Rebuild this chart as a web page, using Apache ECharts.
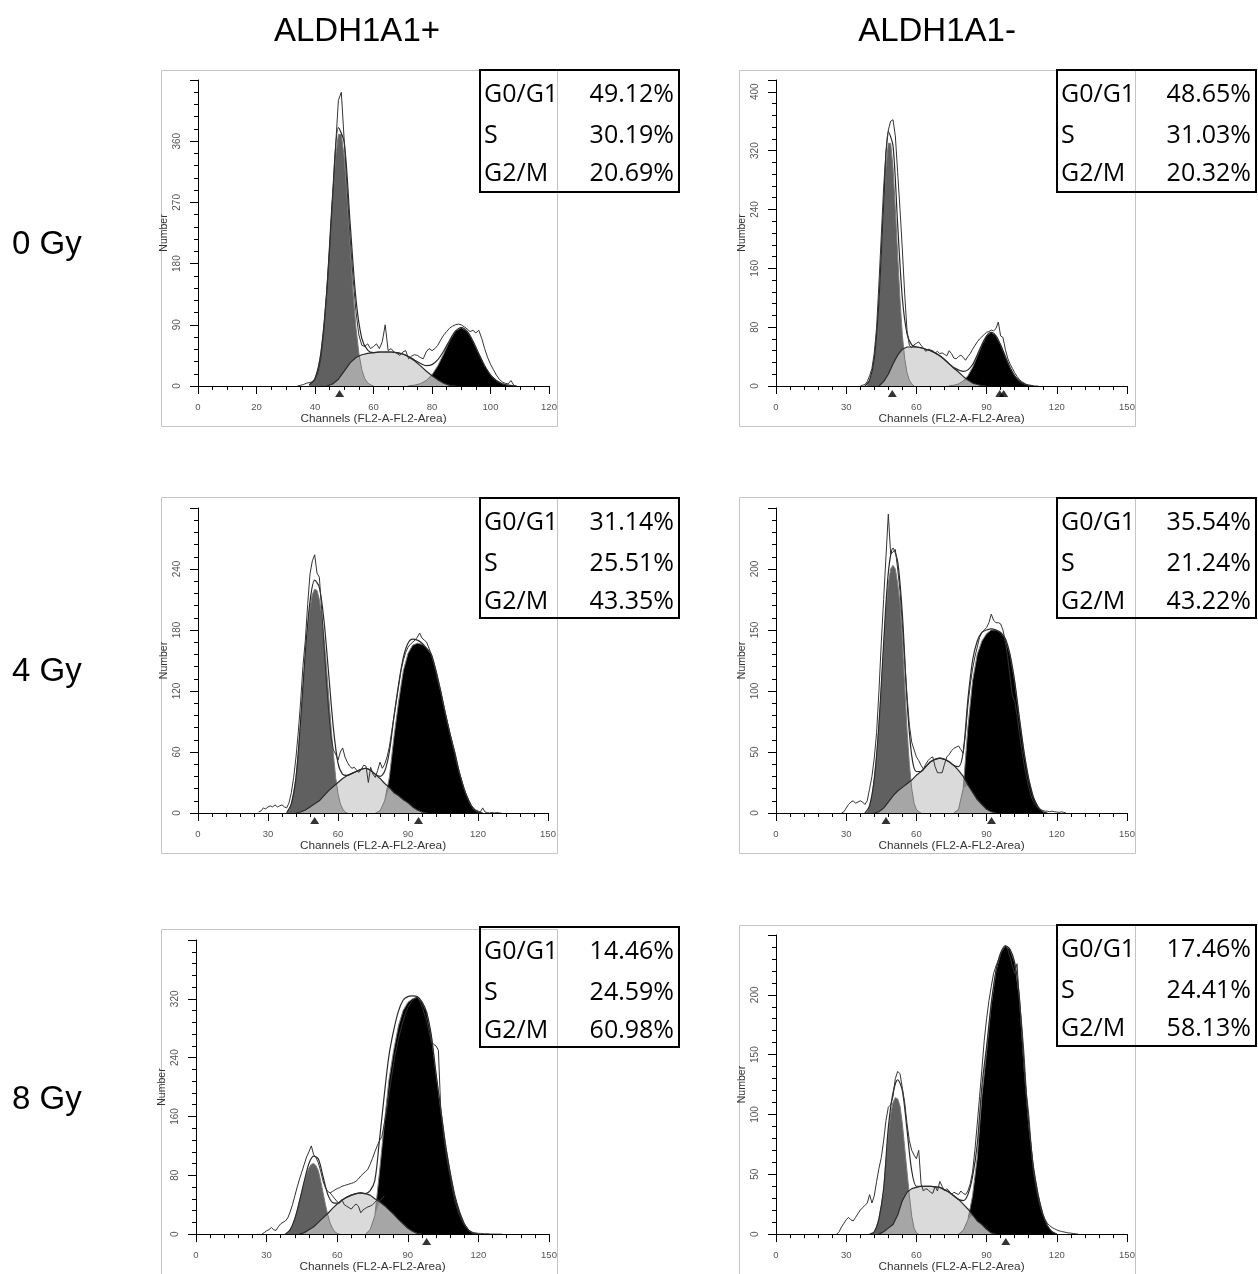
<!DOCTYPE html>
<html>
<head>
<meta charset="utf-8">
<script src="https://cdn.jsdelivr.net/npm/echarts/dist/echarts.min.js"></script>
<style>
  html, body { margin: 0; padding: 0; background: #fff; }
  #chart { width: 1258px; height: 1274px; }
</style>
</head>
<body>
<div id="chart"></div>
<script>
// Headings
const columnTitles = ['ALDH1A1+', 'ALDH1A1-'];
const rowTitles = ['0 Gy', '4 Gy', '8 Gy'];
const phaseNames = ['G0/G1', 'S', 'G2/M'];

// Cell-cycle fractions (G0/G1, S, G2/M)
const pos0_pct = ['49.12%', '30.19%', '20.69%'];
const neg0_pct = ['48.65%', '31.03%', '20.32%'];
const pos4_pct = ['31.14%', '25.51%', '43.35%'];
const neg4_pct = ['35.54%', '21.24%', '43.22%'];
const pos8_pct = ['14.46%', '24.59%', '60.98%'];
const neg8_pct = ['17.46%', '24.41%', '58.13%'];

// Axis scales: [channel max, channel tick step, count max, count tick step]
const pos0_axes = [120, 20, 450, 90];
const neg0_axes = [150, 30, 416, 80];
const pos4_axes = [150, 30, 300, 60];
const neg4_axes = [150, 30, 250, 50];
const pos8_axes = [150, 30, 400, 80];
const neg8_axes = [150, 30, 250, 50];

// ---- ALDH1A1+, 0 Gy ----
const pos0_g1From = 38;   // G0/G1 model, one value per channel
const pos0_g1 = [1.7,4.6,11,24,48,86,139,206,276,336,370,370,336,276,206,139,86,48,24,11,4.6,1.7,0];
const pos0_sFrom = 44;    // S-phase model, every 2 channels
const pos0_s = [0,3,10,22,34,42,46,48,49,50,50,50,49,47,43,37,30,22,15,9,4,1,0];
const pos0_g2From = 72;   // G2/M model, every 2 channels
const pos0_g2 = [0.4,1.2,3.4,8,16.4,29.8,47.5,66,80.5,86,80.5,66,47.5,29.8,16.4,8,3.4,1.2,0.4];
const pos0_rawFrom = 34;  // measured histogram, one value per channel
const pos0_raw = [0,1,2,4,5,6,
  9,20,40,80,135,200,275,350,420,432,
  360,290,220,160,110,75,60,58,62,55,
  58,62,55,65,90,52,55,50,48,45,
  50,52,40,44,46,45,42,40,50,55,
  52,55,60,68,75,80,85,88,90,91,
  90,87,84,80,82,78,82,70,55,42,
  32,24,16,10,6,4,3,8,1,0];
const pos0_marks = [48.4];

// ---- ALDH1A1-, 0 Gy ----
const neg0_g1From = 39;
const neg0_g1 = [3,7.8,18,37,69,117,177,241,297,330,330,297,241,177,117,69,37,18,7.8,3,0];
const neg0_sFrom = 44;
const neg0_s = [0,6,16,30,42,50,53,53,53,52,50,48,45,41,36,30,24,19,13,8,4,2,0.5,0];
const neg0_g2From = 74;
const neg0_g2 = [0.34,1.06,2.85,6.75,13.9,25.3,40.3,56,68.3,73,68.3,56,40.3,25.3,13.9,6.75,2.85,1.06,0.34];
const neg0_rawFrom = 36;
const neg0_raw = [0,1,2,6,
  14,24,45,80,140,205,270,318,348,360,
  362,340,290,240,185,125,75,55,52,56,
  58,60,55,52,47,50,49,48,45,47,
  44,45,43,41,48,44,38,37,40,42,
  39,35,40,44,50,55,60,64,67,70,
  73,74,76,75,78,87,68,66,50,38,
  30,24,18,13,9,6,4,2,1,1,
  0,0,0];
const neg0_marks = [49.7, 95.6, 97.3];

// ---- ALDH1A1+, 4 Gy ----
const pos4_g1From = 38;
const pos4_g1 = [0.5,3,9,20,35,60,90,125,155,182,202,215,220,219,210,195,172,145,115,85,58,35,19,9,4,1,0];
const pos4_sFrom = 42;
const pos4_s = [0,1,3,6,9,12,17,22,26,30,34,37,39,41,43,44,42,38,34,29,25,20,17,13,10,6,3,1,0];
const pos4_g2From = 76;
const pos4_g2 = [0,2,12,35,75,110,140,157,165,167,166,162,156,140,120,98,78,60,40,24,12,4,1,0];
const pos4_rawFrom = 26;
const pos4_raw = [1,2,5,4,6,7,6,8,6,7,8,6,5,10,
  20,35,55,80,110,145,170,205,235,248,
  254,236,232,200,165,130,100,75,62,58,
  52,60,64,55,50,46,44,45,42,40,
  43,47,46,30,45,38,35,42,50,44,
  48,55,65,80,95,110,125,140,150,158,
  163,166,168,170,173,177,172,170,168,162,
  156,148,138,128,120,108,98,88,78,68,
  58,48,40,32,24,18,13,8,5,3,
  2,1,5,1,0.5,0,0.5,0,0.5,0,0];
const pos4_marks = [50, 94.5];

// ---- ALDH1A1-, 4 Gy ----
const neg4_g1From = 38;
const neg4_g1 = [0,1,6,14,28,46,72,102,135,168,188,200,203,200,188,172,142,105,68,40,20,8,3,1,0];
const neg4_sFrom = 42;
const neg4_s = [0,1,4,9,14,18,21,24,27,31,34,38,42,44,45,44,42,39,35,30,23,17,11,7,3,1,0];
const neg4_g2From = 76;
const neg4_g2 = [0,3,20,70,108,130,141,147,150,150,148,143,130,108,78,50,28,13,5,1,0];
const neg4_rawFrom = 28;
const neg4_raw = [0,1,4,7,9,10,8,9,10,9,7,10,
  20,30,45,66,100,140,175,210,245,212,
  214,216,200,182,155,125,96,72,58,52,
  46,43,39,36,40,43,45,46,38,33,
  33,33,40,46,48,51,53,54,55,52,
  49,65,88,105,118,128,136,144,148,150,
  152,156,163,158,156,156,155,150,140,128,
  112,96,92,80,65,52,40,30,21,14,
  9,6,4,3,2,1.5,1.5,1,1.5,1,
  0.8,0.5,1,0.5,0];
const neg4_marks = [47, 92.1];

// ---- ALDH1A1+, 8 Gy ----
const pos8_g1From = 38;
const pos8_g1 = [0,2,6,12,21,32,45,58,70,82,90,95,96,93,86,72,56,40,26,15,8,3,1,0];
const pos8_sFrom = 44;
const pos8_s = [0,2,6,10,16,22,28,35,41,46,50,53,55,56,55,53,48,44,39,33,27,20,14,8,4,1,0];
const pos8_g2From = 72;
const pos8_g2 = [0,6,25,85,150,210,250,283,304,315,320,322,316,302,270,218,170,122,84,52,30,14,5,1,0];
const pos8_rawFrom = 28;
const pos8_raw = [0,2,4.5,6,9,6,5,10,14,16,18,22,
  30,40,52,64,75,85,95,105,112,120,
  108,104,97,85,72,63,58,56,58,60,
  62,63,65,66,67,68,69,70,72,75,
  79,82,85,88,95,103,112,120,127,133,
  150,168,190,212,232,250,265,278,290,300,
  308,313,318,321,322,318,310,300,290,275,
  262,258,256,250,170,140,115,95,78,60,
  45,34,25,18,12,8,5,3,2,1.5,
  1,1,0.5,0.5,0.5,0,0,0,0,0,0];
const pos8_traceFrom = 57;  // second measured trace under the S-phase hump
const pos8_trace = [56,52,48,44,42,47,40,38,36,34,38,41,38,29,33,35,37,38,40,43,47,45,48,52];
const pos8_marks = [98];

// ---- ALDH1A1-, 8 Gy ----
const neg8_g1From = 41;
const neg8_g1 = [0,2,6,13,24,36,62,84,100,110,114,113,107,92,72,52,32,15,5,1,0];
const neg8_sFrom = 44;
const neg8_s = [0,2,5,8,16,28,35,38,39,40,40,40,39.5,39,37,35,32,29,25,21,16,11,8,4,1,0];
const neg8_g2From = 78;
const neg8_g2 = [0,3,12,32,64,116,153,192,220,235,241,238,227,198,140,92,56,33,17,7,2,0];
const neg8_rawFrom = 26;
const neg8_raw = [0,2,6,9,12,14,12,11,14,17,20,22,24,26,
  33,26,32,44,55,64,78,95,106,108,
  115,130,136,134,122,110,92,78,70,66,
  63,70,42,36,38,37,35,34,40,36,
  44,40,36,38,36,33,35,34,33,36,
  34,33,36,42,52,70,92,115,138,162,
  180,195,207,218,224,229,234,238,241,238,
  232,224,218,226,195,175,150,118,100,75,
  52,40,30,22,16,12,9,7,5.5,4.5,
  3.5,2.7,2.2,1.8,1.4,1,0.8,0.5,0.3,0];
const neg8_marks = [98.2];

// Panel assembly (row-major: 0 Gy, 4 Gy, 8 Gy; left column ALDH1A1+)
const panels = [
  { axes: pos0_axes, g1: [pos0_g1From, pos0_g1], s: [pos0_sFrom, pos0_s], g2: [pos0_g2From, pos0_g2], raw: [pos0_rawFrom, pos0_raw], marks: pos0_marks, pct: pos0_pct,
    grid: { left: 198, top: 80, width: 351, height: 306 }, frame: [161, 70, 396, 356], box: [480, 70, 199, 122] },
  { axes: neg0_axes, g1: [neg0_g1From, neg0_g1], s: [neg0_sFrom, neg0_s], g2: [neg0_g2From, neg0_g2], raw: [neg0_rawFrom, neg0_raw], marks: neg0_marks, pct: neg0_pct,
    grid: { left: 776, top: 80, width: 351, height: 306 }, frame: [739, 70, 396, 356], box: [1057, 70, 199, 122] },
  { axes: pos4_axes, g1: [pos4_g1From, pos4_g1], s: [pos4_sFrom, pos4_s], g2: [pos4_g2From, pos4_g2], raw: [pos4_rawFrom, pos4_raw], marks: pos4_marks, pct: pos4_pct,
    grid: { left: 198, top: 508, width: 350, height: 305 }, frame: [161, 497, 396, 356], box: [480, 498, 199, 120] },
  { axes: neg4_axes, g1: [neg4_g1From, neg4_g1], s: [neg4_sFrom, neg4_s], g2: [neg4_g2From, neg4_g2], raw: [neg4_rawFrom, neg4_raw], marks: neg4_marks, pct: neg4_pct,
    grid: { left: 776, top: 508, width: 351, height: 305 }, frame: [739, 497, 396, 356], box: [1057, 498, 199, 120] },
  { axes: pos8_axes, g1: [pos8_g1From, pos8_g1], s: [pos8_sFrom, pos8_s], g2: [pos8_g2From, pos8_g2], raw: [pos8_rawFrom, pos8_raw], marks: pos8_marks, pct: pos8_pct,
    trace: [pos8_traceFrom, pos8_trace],
    grid: { left: 196, top: 940, width: 353, height: 298 }, frame: [161, 929, 396, 360], box: [480, 927, 199, 120] },
  { axes: neg8_axes, g1: [neg8_g1From, neg8_g1], s: [neg8_sFrom, neg8_s], g2: [neg8_g2From, neg8_g2], raw: [neg8_rawFrom, neg8_raw], marks: neg8_marks, pct: neg8_pct,
    grid: { left: 776, top: 935, width: 351, height: 305 }, frame: [739, 925, 396, 360], box: [1057, 925, 199, 121] }
];

// helpers
const pairs = (from, step, vals) => vals.map((v, k) => [from + k * step, v]);
const valueAt = (from, step, vals, x) => {
  const k = (x - from) / step;
  const r = Math.round(k);
  return (Math.abs(k - r) < 1e-9 && r >= 0 && r < vals.length) ? vals[r] : 0;
};

const FONT = 'Liberation Sans';
const grids = [], xAxes = [], yAxes = [], series = [], graphics = [];

panels.forEach((p, i) => {
  const [xMax, xStep, yMax, yStep] = p.axes;
  grids.push(Object.assign({ containLabel: false }, p.grid));

  xAxes.push({
    type: 'value', gridIndex: i, min: 0, max: xMax, interval: xStep, z: 20,
    axisLine: { show: true, onZero: false, lineStyle: { color: '#000', width: 1 } },
    axisTick: { show: true, length: 8, lineStyle: { color: '#000', width: 1 } },
    minorTick: { show: true, splitNumber: xStep === 20 ? 4 : 5, length: 4, lineStyle: { color: '#000', width: 1 } },
    splitLine: { show: false },
    axisLabel: { margin: 16, fontSize: 9.5, color: '#555', fontFamily: FONT },
    name: 'Channels (FL2-A-FL2-Area)', nameLocation: 'middle', nameGap: 23,
    nameTextStyle: { fontSize: 11.8, color: '#333', fontFamily: FONT }
  });
  yAxes.push({
    type: 'value', gridIndex: i, min: 0, max: yMax, interval: yStep, z: 20,
    axisLine: { show: true, onZero: false, lineStyle: { color: '#000', width: 1 } },
    axisTick: { show: true, length: 8, lineStyle: { color: '#000', width: 1 } },
    minorTick: { show: true, splitNumber: 5, length: 4, lineStyle: { color: '#000', width: 1 } },
    splitLine: { show: false },
    axisLabel: { rotate: 90, margin: 16, fontSize: 10, color: '#555', fontFamily: FONT, showMaxLabel: false },
    name: 'Number', nameLocation: 'middle', nameRotate: 90, nameGap: 28,
    nameTextStyle: { fontSize: 10.5, color: '#333', fontFamily: FONT }
  });

  const [g1From, g1] = p.g1, [sFrom, s] = p.s, [g2From, g2] = p.g2, [rawFrom, raw] = p.raw;
  const g1Pts = pairs(g1From, 1, g1);
  const sPts = pairs(sFrom, 2, s);
  const g2Pts = pairs(g2From, 2, g2);

  // region shared by S-phase and G2/M model
  const sg2 = sPts.map(([x, v]) => [x, Math.min(v, valueAt(g2From, 2, g2, x))]);

  // model sum on even channels
  const fit = [];
  const lo = Math.floor(Math.min(g1From, sFrom) / 2) * 2;
  const hi = Math.max(g2From + 2 * (g2.length - 1), sFrom + 2 * (s.length - 1));
  for (let x = lo; x <= hi; x += 2) {
    fit.push([x, valueAt(g1From, 1, g1, x) + valueAt(sFrom, 2, s, x) + valueAt(g2From, 2, g2, x)]);
  }

  const base = { type: 'line', xAxisIndex: i, yAxisIndex: i, symbol: 'none', silent: true, animation: false };
  series.push(Object.assign({}, base, { name: 'G0/G1', data: g1Pts, lineStyle: { width: 0 }, areaStyle: { color: '#606060', opacity: 1 }, z: 2 }));
  series.push(Object.assign({}, base, { name: 'G2/M', data: g2Pts, lineStyle: { width: 0 }, areaStyle: { color: '#000', opacity: 1 }, z: 2 }));
  series.push(Object.assign({}, base, { name: 'S', data: sPts, lineStyle: { width: 0 }, areaStyle: { color: 'rgba(200,200,200,0.673)', opacity: 1 }, z: 3 }));
  series.push(Object.assign({}, base, { name: 'S∩G2/M', data: sg2, lineStyle: { width: 0 }, areaStyle: { color: '#a6a6a6', opacity: 1 }, z: 4 }));
  series.push(Object.assign({}, base, { name: 'G0/G1 edge', data: g1Pts, lineStyle: { color: '#7a7a7a', width: 1 }, z: 5 }));
  series.push(Object.assign({}, base, { name: 'G2/M edge', data: g2Pts, lineStyle: { color: '#7a7a7a', width: 1 }, z: 5 }));
  series.push(Object.assign({}, base, { name: 'S edge', data: sPts, lineStyle: { color: '#2a2a2a', width: 1.2 }, z: 6 }));
  series.push(Object.assign({}, base, { name: 'Fit', data: fit, smooth: 0.3, lineStyle: { color: '#2a2a2a', width: 1.2 }, z: 7 }));
  series.push(Object.assign({}, base, { name: 'Data', data: pairs(rawFrom, 1, raw), lineStyle: { color: '#333', width: 1 }, z: 8 }));
  if (p.trace) {
    series.push(Object.assign({}, base, { name: 'Data 2', data: pairs(p.trace[0], 1, p.trace[1]), lineStyle: { color: '#333', width: 1 }, z: 8 }));
  }
  series.push({
    type: 'scatter', xAxisIndex: i, yAxisIndex: i, silent: true, animation: false, clip: false,
    data: p.marks.map(x => [x, 0]), symbol: 'triangle', symbolSize: [9, 7], symbolOffset: [0, 7.5],
    itemStyle: { color: '#000' }, z: 21
  });

  // panel frame
  const [fx, fy, fw, fh] = p.frame;
  graphics.push({ type: 'rect', shape: { x: fx + 0.5, y: fy + 0.5, width: fw, height: fh },
    style: { fill: 'none', stroke: '#c4c4c4', lineWidth: 1 }, z: -10, silent: true });

  // phase percentage box
  const [bx, by, bw, bh] = p.box;
  graphics.push({ type: 'rect', shape: { x: bx, y: by, width: bw, height: bh },
    style: { fill: 'none', stroke: '#000', lineWidth: 2 }, z: 50, silent: true });
  const rowOffsets = [25, 65.5, 104];
  phaseNames.forEach((name, r) => {
    graphics.push({ type: 'text', x: bx + 4, y: by + rowOffsets[r], z: 51, silent: true,
      style: { text: name, fontSize: 25, fontFamily: 'Open Sans', fill: '#000', textAlign: 'left', textVerticalAlign: 'middle' } });
    graphics.push({ type: 'text', x: bx + bw - 5, y: by + rowOffsets[r], z: 51, silent: true,
      style: { text: p.pct[r], fontSize: 25, fontFamily: 'Open Sans', fill: '#000', textAlign: 'right', textVerticalAlign: 'middle' } });
  });
});

// column and row headings
const columnCenters = [357, 937];
columnTitles.forEach((t, c) => {
  graphics.push({ type: 'text', x: columnCenters[c], y: 32, silent: true,
    style: { text: t, fontSize: 33, fontFamily: FONT, fill: '#000', textAlign: 'center', textVerticalAlign: 'middle' } });
});
const rowCenters = [245, 672, 1100];
rowTitles.forEach((t, r) => {
  graphics.push({ type: 'text', x: 12, y: rowCenters[r], silent: true,
    style: { text: t, fontSize: 33, fontFamily: FONT, fill: '#000', textAlign: 'left', textVerticalAlign: 'middle' } });
});

const chart = echarts.init(document.getElementById('chart'), null, { renderer: 'canvas', width: 1258, height: 1274 });
chart.setOption({
  animation: false,
  backgroundColor: '#fff',
  grid: grids,
  xAxis: xAxes,
  yAxis: yAxes,
  series: series,
  graphic: { elements: graphics }
});
</script>
</body>
</html>
